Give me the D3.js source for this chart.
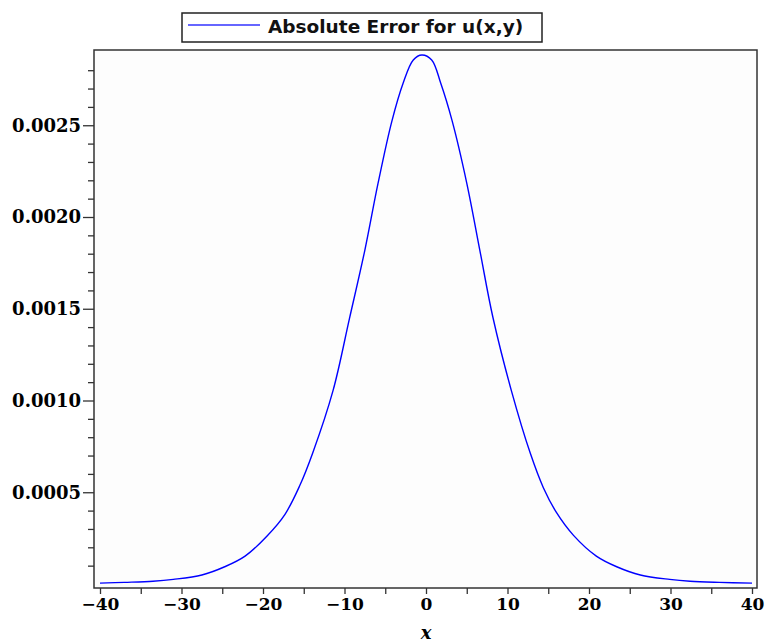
<!DOCTYPE html>
<html>
<head>
<meta charset="utf-8">
<script src="https://cdn.jsdelivr.net/npm/d3@7"></script>
<style>
  body { margin: 0; background: #fff; }
  svg { display: block; }
</style>
</head>
<body>
<div id="graph"></div>
<script>
// points (x, erreur absolue)
const xs = [-40, -37, -33.5, -31, -27.5, -24.7, -22.2, -19.5, -17.3, -15.5, -13.9, -11.4, -9.4, -7.5, -5.9, -4.2, -2.8, -1.56, -0.5,
  0.7, 1.8, 3.2, 5.0, 6.6, 8.2, 10.5, 12.8, 14.4, 16.0, 18.1, 20.9, 23.4, 26.3, 29.9, 32.4, 36, 40]
const errs = [0.000005, 0.000009, 0.000015, 0.000025, 0.000049, 0.000094, 0.000152, 0.000262, 0.000380, 0.000535, 0.000714, 0.001055, 0.001445, 0.00182, 0.00218, 0.00252, 0.00273, 0.002856, 0.002883,
  0.002856, 0.00273, 0.002525, 0.002185, 0.00182, 0.001455, 0.00105, 0.000712, 0.000525, 0.000390, 0.000265, 0.000152, 0.000094, 0.000049, 0.000025, 0.000015, 0.000009, 0.000005]

const xTicks = d3.range(-40, 41, 5)
const yMajor = [0.0005, 0.0010, 0.0015, 0.0020, 0.0025]
const yMinor = d3.range(1, 29).map(d => d / 10000).filter(d => Math.round(d * 10000) % 5 !== 0)
const legendLabel = "Absolute Error for u(x,y)"
const xLabel = "x"

const width = 768, height = 644
const box = { left: 94, right: 757, top: 50, bottom: 588 }

const svg = d3.select("#graph")
  .append("svg")
  .attr("width", width)
  .attr("height", height)

const x = d3.scaleLinear().domain([-40, 40]).range([100, 752])
const y = d3.scaleLinear().domain([0, 0.0029]).range([584, 584 - 0.0029 * 183500])

/* ---- cadre ---- */
svg.append("rect")
  .attr("x", box.left).attr("y", box.top)
  .attr("width", box.right - box.left).attr("height", box.bottom - box.top)
  .attr("fill", "#fdfdfd")
  .attr("stroke", "#333")
  .attr("stroke-width", 1.5)

/* ---- axes ---- */
const serif = "'DejaVu Serif', serif"

// axe Y, grandes graduations
const gy = svg.append("g")
  .attr("transform", `translate(${box.left},0)`)
  .call(d3.axisLeft(y).tickValues(yMajor).tickSize(11).tickPadding(2).tickFormat(d3.format(".4f")))
gy.call(g => g.select(".domain").remove())
gy.selectAll("text")
  .attr("font-family", serif).attr("font-weight", "bold").attr("font-size", 18).attr("fill", "#000")

// axe Y, petites graduations
svg.append("g")
  .attr("transform", `translate(${box.left},0)`)
  .call(d3.axisLeft(y).tickValues(yMinor).tickSize(6).tickFormat(""))
  .call(g => g.select(".domain").remove())

// axe X
const gx = svg.append("g")
  .attr("transform", `translate(0,${box.bottom})`)
  .call(d3.axisBottom(x).tickValues(xTicks).tickSize(6).tickPadding(4)
    .tickFormat(d => d % 10 === 0 ? d3.format("d")(d) : ""))
gx.call(g => g.select(".domain").remove())
gx.selectAll("text")
  .attr("font-family", serif).attr("font-weight", "bold").attr("font-size", 17).attr("fill", "#000")

svg.selectAll(".tick line").attr("stroke", "#333").attr("stroke-width", 1.3)

svg.append("text")
  .attr("x", x(0))
  .attr("y", 639)
  .attr("text-anchor", "middle")
  .attr("font-family", serif)
  .attr("font-weight", "bold")
  .attr("font-style", "italic")
  .attr("font-size", 18)
  .text(xLabel)

/* ---- courbe ---- */
const pts = xs.map((d, i) => [d, errs[i]])
svg.append("path")
  .datum(pts)
  .attr("fill", "none")
  .attr("stroke", "#0000ff")
  .attr("stroke-width", 1.4)
  .attr("d", d3.line().x(d => x(d[0])).y(d => y(d[1])).curve(d3.curveCatmullRom.alpha(0.5)))

/* ---- légende ---- */
svg.append("rect")
  .attr("x", 182).attr("y", 13).attr("width", 360).attr("height", 29)
  .attr("fill", "#fff").attr("stroke", "#222").attr("stroke-width", 1.5)
svg.append("line")
  .attr("x1", 188).attr("x2", 260).attr("y1", 25).attr("y2", 25)
  .attr("stroke", "#3333ff").attr("stroke-width", 1.5)
svg.append("text")
  .attr("x", 268).attr("y", 33)
  .attr("font-family", "'DejaVu Sans', sans-serif")
  .attr("font-weight", "bold")
  .attr("font-size", 18.5)
  .attr("fill", "#111")
  .text(legendLabel)
</script>
</body>
</html>
